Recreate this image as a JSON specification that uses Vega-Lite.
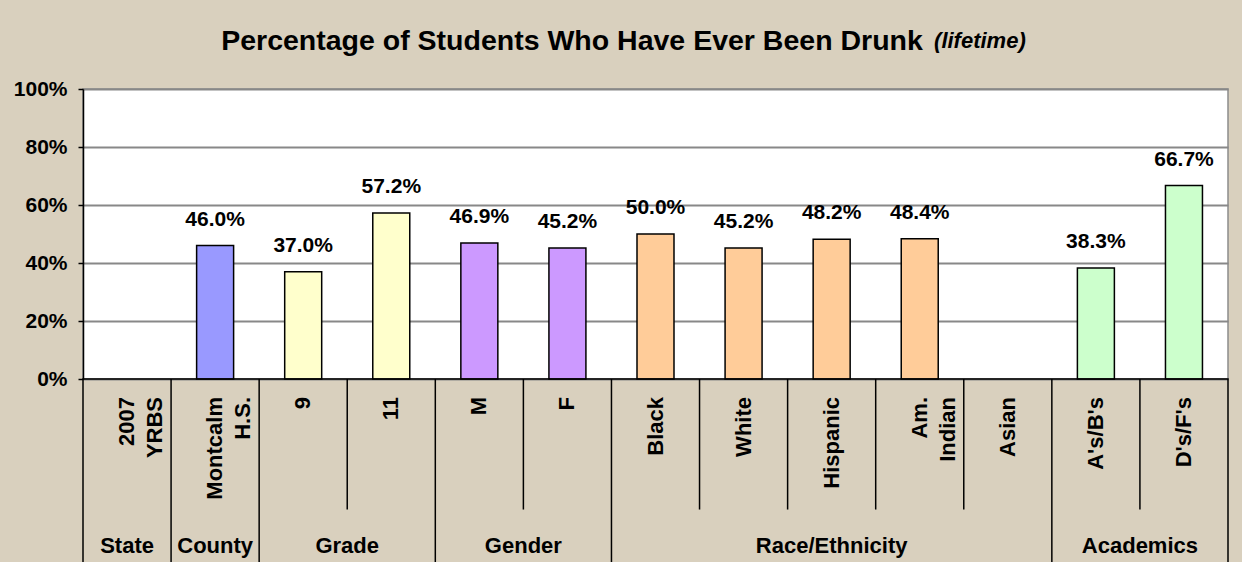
{
  "$schema": "https://vega.github.io/schema/vega-lite/v6.json",
  "background": "#d9d0be",
  "padding": {"left": 12, "top": 26, "right": 14, "bottom": 0},
  "spacing": 0,
  "bounds": "flush",
  "title": {
    "text": "Percentage of Students Who Have Ever Been Drunk\u00a0\u00a0\u00a0\u00a0\u00a0\u00a0\u00a0\u00a0\u00a0\u00a0\u00a0\u00a0\u00a0\u200b",
    "subtitle": "(lifetime)",
    "anchor": "end",
    "align": "right",
    "frame": "bounds",
    "baseline": "top",
    "dx": -203,
    "offset": 22,
    "font": "Liberation Sans",
    "fontSize": 28.5,
    "fontWeight": "bold",
    "color": "black",
    "subtitleFont": "Liberation Sans",
    "subtitleFontSize": 22,
    "subtitleFontWeight": "bold",
    "subtitleFontStyle": "italic",
    "subtitleColor": "black",
    "subtitlePadding": -24
  },
  "datasets": {
    "cats": [
      {"cat": "2007 YRBS", "lab": "2007|YRBS", "grp": "State", "sep": "none", "v": null},
      {"cat": "Montcalm H.S.", "lab": "Montcalm|H.S.", "grp": "County", "sep": "long", "v": 0.46},
      {"cat": "9", "lab": "9", "grp": "Grade", "sep": "long", "v": 0.37},
      {"cat": "11", "lab": "11", "grp": "Grade", "sep": "short", "v": 0.572},
      {"cat": "M", "lab": "M", "grp": "Gender", "sep": "long", "v": 0.469},
      {"cat": "F", "lab": "F", "grp": "Gender", "sep": "short", "v": 0.452},
      {"cat": "Black", "lab": "Black", "grp": "Race", "sep": "long", "v": 0.5},
      {"cat": "White", "lab": "White", "grp": "Race", "sep": "short", "v": 0.452},
      {"cat": "Hispanic", "lab": "Hispanic", "grp": "Race", "sep": "short", "v": 0.482},
      {"cat": "Am. Indian", "lab": "Am.|Indian", "grp": "Race", "sep": "short", "v": 0.484},
      {"cat": "Asian", "lab": "Asian", "grp": "Race", "sep": "short", "v": null},
      {"cat": "A's/B's", "lab": "A's/B's", "grp": "Academics", "sep": "long", "v": 0.383},
      {"cat": "D's/F's", "lab": "D's/F's", "grp": "Academics", "sep": "short", "v": 0.667}
    ],
    "groups": [
      {"label": "State", "at": "2007 YRBS", "pos": "mid"},
      {"label": "County", "at": "Montcalm H.S.", "pos": "mid"},
      {"label": "Grade", "at": "11", "pos": "edge"},
      {"label": "Gender", "at": "F", "pos": "edge"},
      {"label": "Race/Ethnicity", "at": "Hispanic", "pos": "mid"},
      {"label": "Academics", "at": "D's/F's", "pos": "edge"}
    ]
  },
  "vconcat": [
    {
      "width": 1145,
      "height": 290,
      "view": {"fill": "white", "stroke": "#8c8c8c", "strokeWidth": 1.5},
      "data": {"name": "cats"},
      "transform": [{"filter": "datum.v != null"}],
      "layer": [
        {
          "mark": {"type": "bar", "stroke": "black", "strokeWidth": 1.5, "width": {"band": 0.42}},
          "encoding": {
            "x": {
              "field": "cat", "type": "nominal",
              "scale": {"domain": ["2007 YRBS", "Montcalm H.S.", "9", "11", "M", "F", "Black", "White", "Hispanic", "Am. Indian", "Asian", "A's/B's", "D's/F's"], "paddingInner": 0, "paddingOuter": 0},
              "axis": null
            },
            "y": {
              "field": "v", "type": "quantitative",
              "scale": {"domain": [0, 1], "nice": false},
              "axis": {
                "title": null,
                "values": [0, 0.2, 0.4, 0.6, 0.8, 1],
                "format": ".0%",
                "grid": true,
                "gridColor": "#888888",
                "gridWidth": 2,
                "domainColor": "black",
                "domainWidth": 1.5,
                "tickColor": "black",
                "tickWidth": 1.5,
                "tickSize": 5,
                "labelFont": "Liberation Sans",
                "labelFontSize": 21,
                "labelFontWeight": "bold",
                "labelColor": "black",
                "labelPadding": 11
              }
            },
            "color": {
              "field": "grp", "type": "nominal",
              "scale": {"domain": ["County", "Grade", "Gender", "Race", "Academics", "State"], "range": ["#9999ff", "#ffffcc", "#cc99ff", "#ffcc99", "#ccffcc", "#ffffff"]},
              "legend": null
            }
          }
        },
        {
          "mark": {"type": "text", "baseline": "alphabetic", "dy": -20, "font": "Liberation Sans", "fontSize": 21, "fontWeight": "bold", "color": "black"},
          "encoding": {
            "x": {"field": "cat", "type": "nominal"},
            "y": {"field": "v", "type": "quantitative"},
            "text": {"field": "v", "type": "quantitative", "format": ".1%"}
          }
        }
      ]
    },
    {
      "width": 1145,
      "height": 190,
      "view": {"stroke": "black", "strokeWidth": 1.5},
      "layer": [
        {
          "data": {"name": "cats"},
          "transform": [{"filter": "datum.sep == 'short'"}],
          "mark": {"type": "rule", "color": "black", "strokeWidth": 1.5},
          "encoding": {
            "x": {
              "field": "cat", "type": "nominal", "bandPosition": 0,
              "scale": {"domain": ["2007 YRBS", "Montcalm H.S.", "9", "11", "M", "F", "Black", "White", "Hispanic", "Am. Indian", "Asian", "A's/B's", "D's/F's"], "paddingInner": 0, "paddingOuter": 0},
              "axis": null
            },
            "y": {"datum": 0, "type": "quantitative", "scale": {"domain": [-0.655, 0], "nice": false, "zero": false}, "axis": null},
            "y2": {"datum": -0.45}
          }
        },
        {
          "data": {"name": "cats"},
          "transform": [{"filter": "datum.sep == 'long'"}],
          "mark": {"type": "rule", "color": "black", "strokeWidth": 1.5},
          "encoding": {
            "x": {"field": "cat", "type": "nominal", "bandPosition": 0},
            "y": {"datum": 0, "type": "quantitative"},
            "y2": {"datum": -0.655}
          }
        },
        {
          "data": {"name": "cats"},
          "mark": {"type": "text", "angle": 270, "align": "right", "baseline": "middle", "lineBreak": "|", "lineHeight": 28, "font": "Liberation Sans", "fontSize": 22, "fontWeight": "bold", "color": "black"},
          "encoding": {
            "x": {"field": "cat", "type": "nominal"},
            "y": {"datum": -0.062, "type": "quantitative"},
            "text": {"field": "lab", "type": "nominal"}
          }
        },
        {
          "data": {"name": "groups"},
          "transform": [{"filter": "datum.pos == 'mid'"}],
          "mark": {"type": "text", "baseline": "middle", "font": "Liberation Sans", "fontSize": 22, "fontWeight": "bold", "color": "black"},
          "encoding": {
            "x": {"field": "at", "type": "nominal", "bandPosition": 0.5},
            "y": {"datum": -0.576, "type": "quantitative"},
            "text": {"field": "label", "type": "nominal"}
          }
        },
        {
          "data": {"name": "groups"},
          "transform": [{"filter": "datum.pos == 'edge'"}],
          "mark": {"type": "text", "baseline": "middle", "font": "Liberation Sans", "fontSize": 22, "fontWeight": "bold", "color": "black"},
          "encoding": {
            "x": {"field": "at", "type": "nominal", "bandPosition": 0},
            "y": {"datum": -0.576, "type": "quantitative"},
            "text": {"field": "label", "type": "nominal"}
          }
        }
      ]
    }
  ]
}
